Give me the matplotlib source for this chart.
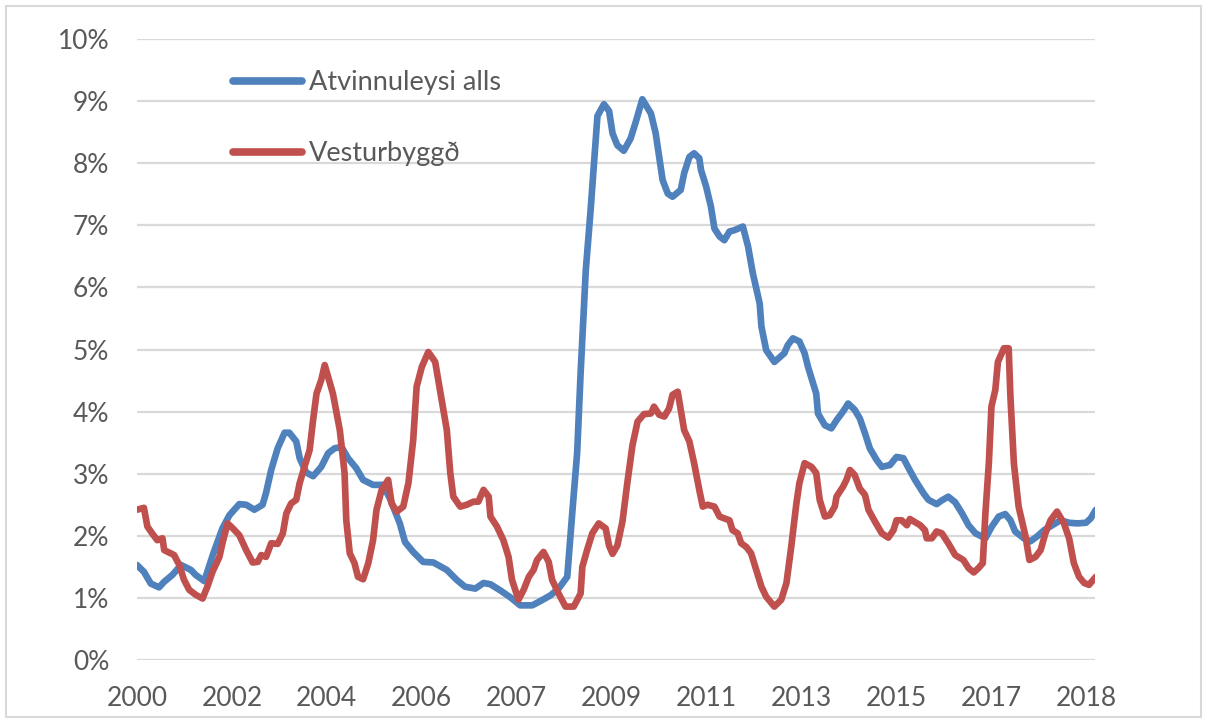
import matplotlib
matplotlib.use("Agg")
import matplotlib.pyplot as plt
from matplotlib.ticker import PercentFormatter
from matplotlib.patches import Rectangle

# months counted from the first observation (Jan 2000), values in %
blue_month = [0.0, 1.6, 3.2, 5.1, 6.3, 8.2, 10.2, 12.5, 13.6, 15.6, 17.6, 19.8, 21.4, 23.7,
              25.3, 27.2, 29.1, 29.9, 31.1, 32.6, 34.2, 35.3, 36.9, 37.7, 39.2, 40.8, 42.7,
              44.3, 45.8, 47.4, 48.9, 50.8, 52.4, 54.7, 57.0, 58.6, 60.9, 62.1, 64.0, 66.3,
              68.7, 71.8, 74.1, 76.0, 78.4, 80.3, 81.9, 84.2, 86.5, 88.8, 91.6, 93.5, 95.8,
              97.7, 99.7, 100.9, 102.0, 102.8, 104.0, 105.1, 106.7, 108.2, 109.4, 110.2,
              111.3, 112.8, 114.4, 115.6, 117.1, 119.1, 120.2, 121.0, 121.8, 123.0, 124.1,
              126.0, 126.8, 128.0, 129.1, 130.3, 130.7, 131.9, 133.0, 133.8, 135.0, 136.1,
              137.3, 138.4, 140.4, 141.6, 142.7, 144.3, 144.7, 145.8, 147.7, 150.0, 150.8,
              152.0, 153.5, 154.7, 155.5, 157.4, 157.8, 159.4, 160.9, 162.1, 163.6, 164.8,
              166.3, 167.5, 168.7, 169.8, 171.4, 172.6, 174.5, 176.0, 177.6, 178.8, 180.3,
              182.3, 183.4, 185.3, 186.5, 188.0, 189.6, 191.2, 192.7, 194.3, 196.6, 198.1,
              199.7, 201.2, 202.4, 203.5, 205.5, 207.0, 208.6, 210.2, 212.1, 214.0, 216.0,
              217.9, 219.9, 221.0, 222.2]
blue_val = [1.53, 1.42, 1.23, 1.17, 1.26, 1.37, 1.53, 1.45, 1.37, 1.27, 1.70, 2.12, 2.33, 2.51,
            2.50, 2.42, 2.50, 2.69, 3.06, 3.41, 3.66, 3.66, 3.52, 3.25, 3.02, 2.96, 3.11,
            3.33, 3.41, 3.43, 3.25, 3.09, 2.90, 2.82, 2.82, 2.60, 2.20, 1.90, 1.74, 1.58,
            1.57, 1.45, 1.29, 1.18, 1.15, 1.24, 1.22, 1.12, 1.01, 0.88, 0.88, 0.95, 1.04,
            1.15, 1.34, 2.40, 3.34, 4.62, 6.28, 7.23, 8.76, 8.95, 8.84, 8.48,
            8.29, 8.20, 8.40, 8.67, 9.03, 8.80, 8.48, 8.10, 7.73, 7.51, 7.46,
            7.57, 7.84, 8.10, 8.16, 8.08, 7.89, 7.62, 7.30, 6.95, 6.82, 6.76,
            6.90, 6.92, 6.98, 6.66, 6.23, 5.74, 5.37, 4.99, 4.80, 4.94, 5.07,
            5.18, 5.13, 4.94, 4.72, 4.29, 3.97, 3.78, 3.73, 3.86, 4.00, 4.13,
            4.03, 3.89, 3.65, 3.41, 3.22, 3.11, 3.14, 3.27, 3.25, 3.09, 2.90,
            2.68, 2.58, 2.51, 2.57, 2.63, 2.54, 2.36, 2.17, 2.04, 1.96, 2.15,
            2.31, 2.35, 2.25, 2.07, 1.96, 1.91, 1.99, 2.09, 2.17, 2.25, 2.21,
            2.20, 2.21, 2.28, 2.42]

red_month = [0.0, 1.6, 2.4, 3.6, 4.7, 5.9, 6.3, 8.6, 9.8, 10.9, 12.1, 13.6, 15.2, 16.3, 17.5,
             19.1, 19.8, 21.0, 22.2, 23.7, 25.3, 26.8, 28.0, 28.8, 29.9, 31.1, 32.6, 33.8,
             34.6, 35.7, 36.9, 37.7, 38.8, 40.0, 40.8, 41.6, 42.7, 43.5, 45.4, 47.0, 48.1,
             48.5, 49.3, 50.4, 51.2, 52.4, 53.6, 54.7, 55.5, 56.7, 58.2, 59.0, 60.2, 61.7,
             62.9, 64.0, 64.8, 66.0, 67.5, 69.1, 70.2, 71.8, 72.6, 73.3, 74.9, 76.4, 78.0,
             79.1, 80.3, 81.5, 81.9, 83.4, 84.9, 86.1, 86.9, 88.4, 89.6, 90.8, 91.9, 92.7,
             94.2, 95.4, 96.2, 97.7, 99.3, 101.2, 102.8, 103.2, 104.3, 105.5, 107.0, 108.6,
             109.4, 110.2, 111.3, 112.5, 113.6, 114.8, 116.0, 117.5, 119.1, 119.8, 121.0,
             122.2, 123.3, 124.1, 125.3, 126.0, 126.8, 128.0, 129.1, 130.3, 131.1, 132.2,
             133.8, 135.0, 136.1, 137.3, 138.0, 139.2, 140.0, 141.2, 142.3, 143.5, 144.7,
             145.8, 147.7, 149.3, 150.5, 151.6, 152.8, 153.5, 154.7, 156.3, 157.4, 158.2,
             159.4, 160.5, 161.7, 162.1, 163.6, 164.4, 165.2, 166.3, 167.5, 168.7, 169.5,
             171.0, 172.6, 174.1, 175.3, 176.0, 177.2, 178.4, 179.1, 181.5, 182.6, 183.0,
             184.2, 185.3, 186.5, 188.0, 189.6, 191.5, 192.7, 193.9, 195.0, 196.0, 196.6,
             197.4, 198.0, 198.9, 199.5, 200.9, 202.0, 202.4, 203.2, 204.3, 205.9, 206.8,
             208.2, 209.4, 210.5, 211.7, 213.2, 214.8, 216.0, 217.1, 218.3, 219.5, 220.6,
             222.2]
red_val = [2.42, 2.45, 2.15, 2.03, 1.93, 1.96, 1.77, 1.69, 1.53, 1.29, 1.13, 1.05, 0.99, 1.18, 1.42,
           1.66, 1.88, 2.20, 2.12, 2.01, 1.77, 1.57, 1.58, 1.69, 1.66, 1.88, 1.87, 2.04,
           2.36, 2.52, 2.58, 2.85, 3.11, 3.38, 3.86, 4.29, 4.51, 4.75, 4.29, 3.70, 3.01,
           2.25, 1.72, 1.56, 1.34, 1.30, 1.56, 1.93, 2.42, 2.74, 2.90, 2.52, 2.39, 2.47,
           2.85, 3.54, 4.40, 4.72, 4.96, 4.80, 4.35, 3.70, 3.01, 2.63, 2.47, 2.50, 2.55,
           2.55, 2.74, 2.63, 2.31, 2.15, 1.93, 1.66, 1.29, 0.97, 1.13, 1.34, 1.45, 1.61,
           1.74, 1.58, 1.29, 1.07, 0.86, 0.86, 1.07, 1.50, 1.77, 2.04, 2.20, 2.12,
           1.84, 1.71, 1.84, 2.23, 2.84, 3.45, 3.84, 3.96, 3.97, 4.08, 3.95,
           3.92, 4.05, 4.27, 4.32, 4.03, 3.70, 3.52, 3.17, 2.74, 2.47, 2.50,
           2.47, 2.31, 2.28, 2.25, 2.09, 2.04, 1.88, 1.82, 1.72, 1.45, 1.18,
           1.02, 0.86, 0.97, 1.24, 1.82, 2.52, 2.85, 3.17, 3.11, 3.01, 2.58,
           2.31, 2.33, 2.47, 2.63, 2.79, 2.90, 3.06, 2.98, 2.76, 2.66, 2.42,
           2.23, 2.04, 1.97, 2.09, 2.25, 2.25, 2.17, 2.27, 2.17, 2.09, 1.96,
           1.96, 2.07, 2.04, 1.88, 1.69, 1.61, 1.48, 1.41, 1.48, 1.56, 2.36,
           3.17, 4.08, 4.35, 4.80, 5.02, 5.02, 4.24, 3.17, 2.47, 1.99, 1.61,
           1.66, 1.77, 2.04, 2.25, 2.39, 2.20, 1.96, 1.56, 1.34, 1.24, 1.21,
           1.34]

tick_pos = [0, 22, 44, 66, 88, 110, 132, 154, 176, 198, 220]
tick_labels = ["2000", "2002", "2004", "2006", "2007", "2009", "2011", "2013", "2015", "2017", "2018"]

BLUE = "#4F81BD"
RED = "#C0504D"
GRID = "#d9d9d9"
TXT = "#595959"

plt.rcParams['font.family'] = ['Lato', 'DejaVu Sans']

fig = plt.figure(figsize=(12.07, 7.22), dpi=100)
ax = fig.add_axes([137 / 1207, 1 - 660 / 722, (1095 - 137) / 1207, (660 - 39) / 722])

ax.plot(blue_month, blue_val, color=BLUE, lw=4.8, solid_joinstyle='round',
        solid_capstyle='round', label="Atvinnuleysi alls")
ax.plot(red_month, red_val, color=RED, lw=4.8, solid_joinstyle='round',
        solid_capstyle='round', label="Vesturbyggð")

ax.set_xlim(0, 222)
ax.set_ylim(0, 10)
ax.set_yticks(range(0, 11))
ax.yaxis.set_major_formatter(PercentFormatter(xmax=100, decimals=0))
ax.set_xticks(tick_pos)
ax.set_xticklabels(tick_labels)

ax.grid(axis='y', color=GRID, lw=1.6)
ax.set_axisbelow(True)
for s in ax.spines.values():
    s.set_visible(False)
ax.tick_params(axis='both', length=0, labelsize=19, colors=TXT)
ax.tick_params(axis='y', pad=20)
ax.tick_params(axis='x', pad=19)

leg = ax.legend(loc='upper left', bbox_to_anchor=(233 / 1207, 1 - 70 / 722),
                bbox_transform=fig.transFigure, frameon=False, fontsize=19.5,
                handlelength=2.55, handletextpad=0.25, labelspacing=1.7,
                borderpad=0, borderaxespad=0)
for t in leg.get_texts():
    t.set_color(TXT)
for h in leg.get_lines():
    h.set_linewidth(5.5)
    h.set_solid_capstyle('round')

# light border round the whole chart
fig.patches.append(Rectangle((6 / 1207, 5 / 722), 1 - 12 / 1207, 1 - 11 / 722,
                             transform=fig.transFigure, fill=False,
                             edgecolor=GRID, lw=1.5))

fig.savefig("out.png", dpi=100)
